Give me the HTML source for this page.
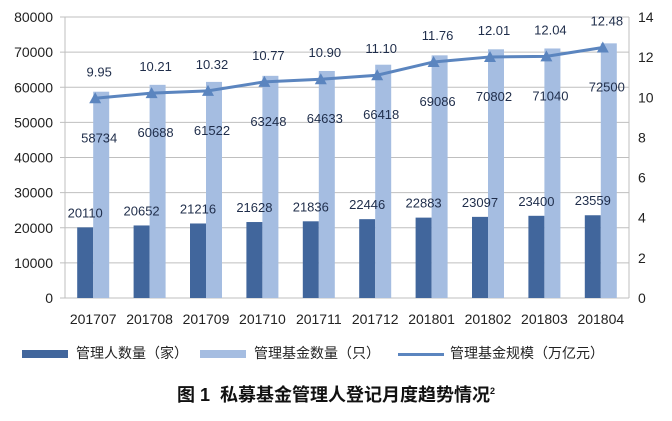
<!DOCTYPE html>
<html><head><meta charset="utf-8"><style>
body{margin:0;background:#fff;font-family:"Liberation Sans","Noto Sans CJK SC",sans-serif}
svg text{font-family:"Liberation Sans","Noto Sans CJK SC",sans-serif}
</style></head><body>
<svg id="c" width="672" height="416"></svg>
<script>
const categories=["201707","201708","201709","201710","201711","201712","201801","201802","201803","201804"];
const managers=[20110,20652,21216,21628,21836,22446,22883,23097,23400,23559];
const funds=[58734,60688,61522,63248,64633,66418,69086,70802,71040,72500];
const scale=[9.95,10.21,10.32,10.77,10.90,11.10,11.76,12.01,12.04,12.48];
const leftTicks=[0,10000,20000,30000,40000,50000,60000,70000,80000];
const rightTicks=[0,2,4,6,8,10,12,14];
const NS="http://www.w3.org/2000/svg",svg=document.getElementById('c');
const X0=65,X1=629,Y0=298,Y1=17,band=(X1-X0)/categories.length;
const yL=v=>Y0-(v/80000)*(Y0-Y1), yR=v=>Y0-(v/14)*(Y0-Y1), xc=i=>X0+band*(i+0.5);
function mk(t,a,txt){const e=document.createElementNS(NS,t);for(const k in a)e.setAttribute(k,a[k]);if(txt!=null)e.textContent=txt;svg.appendChild(e);return e;}
leftTicks.forEach(v=>{const g=mk('line',{x1:X0-5,x2:X1,y1:yL(v),y2:yL(v),stroke:'#bfbfbf','stroke-width':1});

const t=mk('text',{x:53,y:yL(v)+5,'text-anchor':'end','font-size':14,fill:'#222'},v);
});
const ax=mk('line',{x1:X1,x2:X1,y1:Y1,y2:Y0,stroke:'#bfbfbf'});
const ax2=mk('line',{x1:X0,x2:X0,y1:Y1,y2:Y0,stroke:'#bfbfbf'});
rightTicks.forEach(v=>{const t=mk('text',{x:638,y:yR(v)+5,'font-size':14,fill:'#222'},v);
});
categories.forEach((c,i)=>{const x=xc(i);
const b1=mk('rect',{x:x-16,y:yL(managers[i]),width:16,height:Y0-yL(managers[i]),fill:'#41669c'});

const b2=mk('rect',{x:x,y:yL(funds[i]),width:16,height:Y0-yL(funds[i]),fill:'#a5bde1'});

const t=mk('text',{x:x-8,y:yL(managers[i])-10,'text-anchor':'middle','font-size':13,fill:'#1f2d4a'},managers[i]);

const t2=mk('text',{x:x+6,y:yR(scale[i])+44,'text-anchor':'middle','font-size':13,fill:'#1f2d4a'},funds[i]);

const t3=mk('text',{x:x+6,y:yR(scale[i])-22,'text-anchor':'middle','font-size':13,fill:'#1f2d4a'},scale[i].toFixed(2));

const t4=mk('text',{x:x,y:324,'text-anchor':'middle','font-size':14,fill:'#222'},c);
});
const pl=mk('polyline',{points:scale.map((v,i)=>(xc(i)+2)+','+yR(v)).join(' '),fill:'none',stroke:'#5b85bf','stroke-width':3});

scale.forEach((v,i)=>{const x=xc(i)+2,y=yR(v);const p=mk('polygon',{points:`${x-6},${y+5} ${x+6},${y+5} ${x},${y-6}`,fill:'#5b85bf'});
});
</script>
<div style="position:absolute;left:0;top:0;width:672px;height:416px;pointer-events:none;font-size:14px;color:#222">
<div style="position:absolute;left:22px;top:343px;white-space:nowrap"><span style="display:inline-block;width:46px;height:8px;background:#41669c;vertical-align:middle;margin-right:8px"></span>管理人数量（家）</div>
<div style="position:absolute;left:200px;top:343px;white-space:nowrap"><span style="display:inline-block;width:46px;height:8px;background:#a5bde1;vertical-align:middle;margin-right:8px"></span>管理基金数量（只）</div>
<div style="position:absolute;left:398px;top:343px;white-space:nowrap"><span style="display:inline-block;width:46px;height:3px;background:#5b85bf;vertical-align:middle;margin-right:6px"></span>管理基金规模（万亿元）</div>
<div style="position:absolute;left:0;width:672px;top:381px;text-align:center;font-weight:bold;font-size:18px;color:#111">图 1&nbsp; 私募基金管理人登记月度趋势情况<sup style="font-size:9px">2</sup></div>
</div>
</body></html>
